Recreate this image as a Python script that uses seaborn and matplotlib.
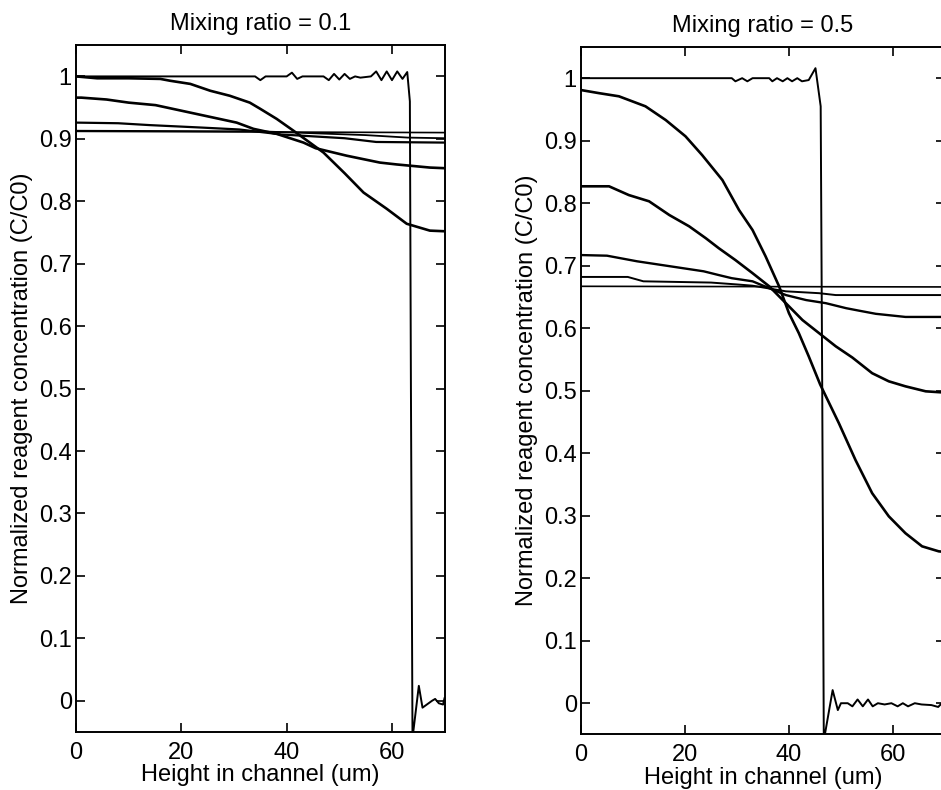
import matplotlib
matplotlib.use("Agg")
import matplotlib.pyplot as plt
import seaborn as sns

# ---- values ----

# Mixing ratio = 0.1 (left panel)
r01_step_x = [0, 34, 35, 36, 40, 41, 42, 43, 47, 48, 49, 50, 51, 52, 53, 54,
              56, 57, 58, 59, 60, 61, 62, 62.9, 63.4, 63.6, 63.9,
              65.1, 65.8, 67.6, 68.2, 68.9, 69.7, 70]
r01_step_y = [1.0, 1.0, 0.994, 1.0, 1.0, 1.006, 0.996, 1.0, 1.0, 0.994, 1.004, 0.995, 1.004, 0.996, 1.0, 0.998,
              1.0, 1.008, 0.994, 1.008, 0.994, 1.008, 0.996, 1.007, 0.96, 0.5, -0.06,
              0.024, -0.011, 0.0, 0.003, -0.004, -0.006, 0.005]

r01_a_x = [0, 4, 10, 16, 17.9, 21.7, 25.5, 29.2, 33, 35, 38.1, 41.3, 44.4, 47, 51, 54.6, 59, 62.8, 67.2, 70]
r01_a_y = [1.0, 0.997, 0.997, 0.996, 0.993, 0.988, 0.977, 0.969, 0.958, 0.948, 0.932, 0.913, 0.894, 0.878,
           0.845, 0.814, 0.788, 0.764, 0.753, 0.752]

r01_b_x = [0, 1, 5.8, 10, 15.1, 21.7, 26.1, 30.5, 33.7, 38.1, 43.2, 45.5, 51.4, 57.7, 60.9, 67.2, 70]
r01_b_y = [0.966, 0.966, 0.963, 0.958, 0.954, 0.942, 0.934, 0.926, 0.916, 0.908, 0.894, 0.885, 0.873,
           0.862, 0.859, 0.854, 0.853]

r01_c_x = [0, 8, 14, 24, 31, 34, 39, 45, 51, 57, 70]
r01_c_y = [0.926, 0.925, 0.922, 0.918, 0.915, 0.912, 0.907, 0.904, 0.901, 0.895, 0.894]

r01_d_x = [0, 35, 45, 55, 63, 70]
r01_d_y = [0.913, 0.912, 0.909, 0.906, 0.902, 0.901]

r01_e_x = [0, 70]
r01_e_y = [0.912, 0.910]

# Mixing ratio = 0.5 (right panel)
r05_step_x = [0, 29, 29.7, 31, 32, 33, 36.2, 36.8, 37.7, 38.8, 39.7, 40.6, 41.6, 42.5,
              43.8, 45.1, 46.1, 46.4, 46.7,
              48.4, 49.4, 50, 51.3, 52.2, 53.2, 54.2, 55.2, 56.1, 57.1,
              58.4, 59.7, 60.9, 61.9, 62.9, 64.2, 65.5, 67.4, 68.7, 69.4, 70]
r05_step_y = [1.0, 1.0, 0.995, 1.0, 0.995, 1.0, 1.0, 0.995, 1.0, 0.995, 1.0, 0.995, 1.0, 0.995,
              0.997, 1.016, 0.955, 0.5, -0.06,
              0.021, -0.011, 0.0, 0.0, -0.005, 0.006, -0.005, 0.006, -0.005, 0.0,
              -0.002, 0.0, -0.005, 0.0, -0.005, 0.0, -0.002, -0.003, -0.006, 0.0, -0.002]

r05_a_x = [0, 3.5, 7.3, 12.4, 16.3, 20.1, 23.3, 27.2, 30.4, 33, 35.5, 38.1, 40, 41.9, 43.8, 46,
           49.6, 52.8, 56, 59.2, 62.4, 65.6, 68.8, 70]
r05_a_y = [0.981, 0.976, 0.971, 0.955, 0.933, 0.907, 0.877, 0.837, 0.789, 0.757, 0.715, 0.667, 0.624,
           0.592, 0.555, 0.51, 0.448, 0.389, 0.336, 0.299, 0.272, 0.251, 0.243, 0.242]

r05_b_x = [0, 5.4, 9.2, 13.1, 17, 20.8, 24, 26.5, 29.7, 33, 36.2, 39.4, 42.6, 45.8, 49, 52.2,
           56, 59.2, 62.4, 66.3, 70]
r05_b_y = [0.827, 0.827, 0.813, 0.803, 0.781, 0.763, 0.744, 0.728, 0.709, 0.688, 0.667, 0.640, 0.613,
           0.592, 0.571, 0.553, 0.528, 0.515, 0.507, 0.499, 0.497]

r05_c_x = [0, 5, 10.8, 17.2, 23.6, 26.5, 29, 33, 36.2, 39.4, 43.3, 47.1, 51, 53.5, 56.7, 62.4, 70]
r05_c_y = [0.717, 0.716, 0.707, 0.699, 0.691, 0.685, 0.680, 0.675, 0.664, 0.653, 0.645, 0.640, 0.632,
           0.628, 0.623, 0.618, 0.618]

r05_d_x = [0, 9, 12, 25, 30, 33, 39.4, 45.8, 49, 70]
r05_d_y = [0.682, 0.682, 0.675, 0.673, 0.670, 0.668, 0.659, 0.656, 0.653, 0.653]

r05_e_x = [0, 70]
r05_e_y = [0.667, 0.666]

titles = ["Mixing ratio = 0.1", "Mixing ratio = 0.5"]
x_ticks = [0, 20, 40, 60]
y_ticks = [0, 0.1, 0.2, 0.3, 0.4, 0.5, 0.6, 0.7, 0.8, 0.9, 1.0]
y_tick_labels = ["0", "0.1", "0.2", "0.3", "0.4", "0.5", "0.6", "0.7", "0.8", "0.9", "1"]

# ---- style ----
sns.set_style("ticks")
plt.rcParams.update({
    "font.family": ["Liberation Sans", "DejaVu Sans"],
    "font.size": 17,
    "text.color": "black",
    "axes.labelcolor": "black",
    "axes.linewidth": 1.4,
    "axes.edgecolor": "black",
    "xtick.direction": "in",
    "ytick.direction": "in",
    "xtick.top": True,
    "ytick.right": True,
    "xtick.major.size": 6.5,
    "ytick.major.size": 6.5,
    "xtick.major.width": 1.2,
    "ytick.major.width": 1.2,
    "xtick.color": "black",
    "ytick.color": "black",
    "xtick.labelcolor": "black",
    "ytick.labelcolor": "black",
})

fig = plt.figure(figsize=(9.41, 7.90), dpi=100)
ax_left = fig.add_axes([0.0808, 0.0734, 0.3917, 0.8694])
ax_right = fig.add_axes([0.6174, 0.0703, 0.3868, 0.8703])

panels = [
    (ax_left, [(r01_step_x, r01_step_y, 1.4), (r01_a_x, r01_a_y, 1.9), (r01_b_x, r01_b_y, 1.9),
               (r01_c_x, r01_c_y, 1.6), (r01_d_x, r01_d_y, 1.3), (r01_e_x, r01_e_y, 1.2)]),
    (ax_right, [(r05_step_x, r05_step_y, 1.4), (r05_a_x, r05_a_y, 1.9), (r05_b_x, r05_b_y, 1.9),
                (r05_c_x, r05_c_y, 1.7), (r05_d_x, r05_d_y, 1.4), (r05_e_x, r05_e_y, 1.2)]),
]

for (ax, curves), title in zip(panels, titles):
    for xs, ys, lw in curves:
        sns.lineplot(x=xs, y=ys, ax=ax, color="black", linewidth=lw,
                     sort=False, estimator=None)
    ax.set_xlim(0, 70)
    ax.set_ylim(-0.05, 1.05)
    ax.set_xticks(x_ticks)
    ax.set_yticks(y_ticks)
    ax.set_yticklabels(y_tick_labels)
    ax.tick_params(axis="x", labelsize=17, pad=7)
    ax.tick_params(axis="y", labelsize=17, pad=3)
    ax.set_xlabel("Height in channel (um)", fontsize=17, labelpad=0.5)
    ax.set_ylabel("Normalized reagent concentration (C/C0)", fontsize=17, labelpad=4)
    ax.set_title(title, fontsize=17, pad=11)
    for side in ["top", "right", "bottom", "left"]:
        ax.spines[side].set_visible(True)

fig.savefig("out.png", dpi=100)
